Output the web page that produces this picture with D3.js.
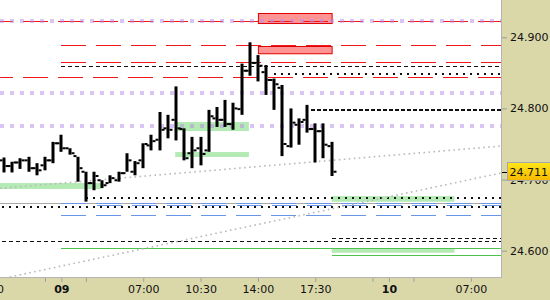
<!DOCTYPE html>
<html>
<head>
<meta charset="utf-8">
<script src="https://cdn.jsdelivr.net/npm/d3@7"></script>
<style>
body { margin: 0; background: #fff; }
text { font-family: "DejaVu Sans", sans-serif; font-size: 11px; fill: #111; }
</style>
</head>
<body>
<div id="chart"></div>
<script>
// 30 min OHLC bars, slot 0..40
var opens  = [24.727, 24.719, 24.724, 24.727, 24.716, 24.720, 24.727, 24.751, 24.744, 24.733,
              24.711, 24.695, 24.699, 24.695, 24.699, 24.709, 24.711, 24.727, 24.748, 24.756,
              24.772, 24.784, 24.771, 24.737, 24.744, 24.741, 24.786, 24.784, 24.778, 24.799,
              24.853, 24.864, 24.851, 24.840, 24.829, 24.747, 24.777, 24.784, 24.771, 24.768, 24.747];
var highs  = [24.731, 24.725, 24.730, 24.732, 24.723, 24.732, 24.753, 24.763, 24.744, 24.732,
              24.711, 24.711, 24.699, 24.706, 24.711, 24.737, 24.726, 24.751, 24.763, 24.795,
              24.791, 24.831, 24.772, 24.760, 24.760, 24.798, 24.802, 24.812, 24.808, 24.863,
              24.893, 24.875, 24.861, 24.842, 24.833, 24.800, 24.786, 24.805, 24.779, 24.779, 24.753];
var lows   = [24.710, 24.710, 24.715, 24.711, 24.706, 24.713, 24.723, 24.739, 24.735, 24.697,
              24.669, 24.685, 24.688, 24.695, 24.697, 24.711, 24.706, 24.716, 24.741, 24.741,
              24.758, 24.755, 24.727, 24.716, 24.720, 24.739, 24.774, 24.774, 24.770, 24.791,
              24.846, 24.838, 24.819, 24.798, 24.733, 24.745, 24.749, 24.766, 24.724, 24.730, 24.705];
var closes = [24.719, 24.724, 24.727, 24.716, 24.713, 24.727, 24.751, 24.744, 24.737, 24.716,
              24.695, 24.705, 24.692, 24.702, 24.709, 24.727, 24.723, 24.750, 24.754, 24.770,
              24.770, 24.772, 24.730, 24.741, 24.736, 24.789, 24.784, 24.778, 24.800, 24.853,
              24.864, 24.860, 24.840, 24.834, 24.750, 24.780, 24.781, 24.771, 24.768, 24.749, 24.711];

var timeTicks  = [-2, 7, 17, 24, 31, 38, 47, 57];
var timeLabels = ["17:30", "09", "07:00", "10:30", "14:00", "17:30", "10", "07:00"];
var dayTicks   = [7, 47];
var minorTicks = [5, 10, 45, 50];
var priceTicks = [24.6, 24.7, 24.8, 24.9];
var lastPrice  = 24.711;

// levels: [price, first slot]
var redDash       = [[24.9229, -1], [24.8891, 7], [24.8652, 7], [24.8441, -1]];
var purpleDots    = [24.9229, 24.8221, 24.7753];
var blackDash     = [[24.8592, 7], [24.6174, 40], [24.6140, -1]];
var blackDashBold = [[24.7987, 37.5]];
var blackDots     = [[24.8502, 33], [24.6758, 10], [24.6628, -1]];
var blueDash      = [[24.6666, 7], [24.6638, 11.4], [24.6497, 7]];
var grayLine      = [[24.6666, -1]];
var greenLine     = [[24.6033, 7], [24.5935, 40]];
// zones: [top, bottom, from slot, to slot]
var redZones   = [[24.9337, 24.9196, 31, 40], [24.8877, 24.8775, 31, 40]];
var greenZones = [[24.7809, 24.7682, 20.9, 29.9], [24.7387, 24.7317, 20.9, 29.9],
                  [24.6951, 24.6867, -1, 11.85], [24.6768, 24.6688, 40, 55],
                  [24.6023, 24.5971, 40, 55]];
// dotted trend lines: [slot, price]
var trendLines = [[[-0.49, 24.6877], [60.68, 24.7471]],
                  [[-0.49, 24.5601], [60.68, 24.7092]]];

var svgWidth = 550;
var svgHeight = 300;
var plotW = 501;
var plotH = 277;

var svg = d3.select("#chart")
  .append("svg")
  .attr("width", svgWidth)
  .attr("height", svgHeight);

var x = d3.scaleLinear().domain([-0.488, 60.68]).range([0, plotW]);
var y = d3.scaleLinear().domain([24.56301, 24.95244]).range([plotH, 0]);

// panels
svg.append("rect").attr("x", 0).attr("y", 0).attr("width", svgWidth).attr("height", svgHeight)
  .attr("fill", "#dad8a9");
svg.append("rect").attr("x", 0).attr("y", 0).attr("width", plotW).attr("height", plotH)
  .attr("fill", "#fff");

svg.append("clipPath").attr("id", "plotclip")
  .append("rect").attr("width", plotW).attr("height", plotH);

var plot = svg.append("g").attr("clip-path", "url(#plotclip)");

function clampX(s) { return Math.max(x(s), 0); }

// zones
plot.selectAll(".gzone").data(greenZones).enter().append("rect")
  .attr("x", d => clampX(d[2]))
  .attr("y", d => y(d[0]))
  .attr("width", d => x(d[3]) - clampX(d[2]))
  .attr("height", d => y(d[1]) - y(d[0]))
  .attr("fill", "#b4eab4");

plot.selectAll(".rzone").data(redZones).enter().append("rect")
  .attr("x", d => x(d[2]) + 0.5)
  .attr("y", d => Math.round(y(d[0])) + 0.5)
  .attr("width", d => x(d[3]) - x(d[2]))
  .attr("height", d => y(d[1]) - y(d[0]))
  .attr("fill", "#ff9494")
  .attr("stroke", "#e00000")
  .attr("stroke-width", 1);

// horizontal levels
function levels(data, color, width, dash, offset) {
  plot.append("g").selectAll("line").data(data).enter().append("line")
    .attr("x1", d => x(d[1]))
    .attr("x2", plotW)
    .attr("y1", d => Math.round(y(d[0])) + 0.5)
    .attr("y2", d => Math.round(y(d[0])) + 0.5)
    .attr("stroke", color)
    .attr("stroke-width", width)
    .attr("stroke-dasharray", dash)
    .attr("stroke-dashoffset", d => d[1] < 0 ? 8 : (offset || 0))
    .attr("shape-rendering", "crispEdges");
}

levels(grayLine, "#a9a9a9", 1.5, null);
levels(blueDash, "#6a96e8", 1.5, "25,10");
levels(redDash, "#f01818", 1, "25,10");
levels(greenLine, "#4cc44c", 1.2, null);
levels(blackDash, "#111", 1, "4,3");
levels(blackDashBold, "#111", 2, "3.5,2.5");
levels(blackDots, "#111", 2, "2,5");

// trend lines
var trend = d3.line().x(d => x(d[0])).y(d => y(d[1]));
plot.selectAll(".trend").data(trendLines).enter().append("path")
  .attr("d", trend)
  .attr("fill", "none")
  .attr("stroke", "#b9b9b9")
  .attr("stroke-width", 1.6)
  .attr("stroke-dasharray", "1.6,3.4");

// purple dotted levels
plot.append("g").selectAll("line").data(purpleDots).enter().append("line")
  .attr("x1", 0)
  .attr("x2", plotW)
  .attr("y1", d => Math.round(y(d)))
  .attr("y2", d => Math.round(y(d)))
  .attr("stroke", "#b68ae8")
  .attr("stroke-opacity", 0.5)
  .attr("stroke-width", 3.5)
  .attr("stroke-dasharray", "4,6")
  .attr("shape-rendering", "crispEdges");

// OHLC bars
var bars = plot.append("g").selectAll("g").data(d3.range(opens.length)).enter().append("g");

bars.append("rect")
  .attr("x", i => Math.round(x(i)) - 1.5)
  .attr("y", i => y(highs[i]))
  .attr("width", 3)
  .attr("height", i => y(lows[i]) - y(highs[i]))
  .attr("fill", "#000");

bars.append("rect")
  .attr("x", i => Math.round(x(i)) - 4.5)
  .attr("y", i => y(opens[i]) - 1)
  .attr("width", 3)
  .attr("height", 2)
  .attr("fill", "#000");

bars.append("rect")
  .attr("x", i => Math.round(x(i)) + 1.5)
  .attr("y", i => y(closes[i]) - 1)
  .attr("width", 3)
  .attr("height", 2)
  .attr("fill", "#000");

// borders
svg.append("line").attr("x1", plotW + 0.5).attr("x2", plotW + 0.5).attr("y1", 0).attr("y2", plotH + 1)
  .attr("stroke", "#b4b4b4");
svg.append("line").attr("x1", 0).attr("x2", plotW + 1).attr("y1", plotH + 0.5).attr("y2", plotH + 0.5)
  .attr("stroke", "#b4b4b4");

// bottom axis
var bottomAxis = d3.axisBottom(x)
  .tickValues(timeTicks)
  .tickSize(4)
  .tickPadding(3)
  .tickFormat((d, i) => timeLabels[i]);

var xAxisG = svg.append("g")
  .attr("transform", `translate(0, ${plotH + 1})`)
  .call(bottomAxis);
xAxisG.select(".domain").remove();
xAxisG.selectAll("line").attr("stroke", "#a0a0a0");
xAxisG.selectAll("text")
  .attr("fill", "#111")
  .style("font-weight", d => dayTicks.indexOf(d) >= 0 ? "bold" : "normal");

var minorAxisG = svg.append("g")
  .attr("transform", `translate(0, ${plotH + 1})`)
  .call(d3.axisBottom(x).tickValues(minorTicks).tickSize(4).tickFormat(""));
minorAxisG.select(".domain").remove();
minorAxisG.selectAll("line").attr("stroke", "#a0a0a0");

// right axis
var rightAxis = d3.axisRight(y)
  .tickValues(priceTicks)
  .tickSize(5)
  .tickPadding(3)
  .tickFormat(d3.format(".3f"));

var yAxisG = svg.append("g")
  .attr("transform", `translate(${plotW + 1}, 0)`)
  .call(rightAxis);
yAxisG.select(".domain").remove();
yAxisG.selectAll("line").attr("stroke", "#9a9a9a");
yAxisG.selectAll("text").attr("fill", "#111");

// last price label
var grad = svg.append("defs").append("linearGradient")
  .attr("id", "gold").attr("x1", 0).attr("x2", 0).attr("y1", 0).attr("y2", 1);
grad.append("stop").attr("offset", "0%").attr("stop-color", "#ffe81a");
grad.append("stop").attr("offset", "100%").attr("stop-color", "#f5b800");

var ly = Math.round(y(lastPrice));
svg.append("line")
  .attr("x1", plotW + 1).attr("x2", plotW + 7)
  .attr("y1", ly + 0.5).attr("y2", ly + 0.5)
  .attr("stroke", "#000");
svg.append("rect")
  .attr("x", 507.5).attr("y", ly - 9.5)
  .attr("width", 46).attr("height", 18)
  .attr("fill", "url(#gold)")
  .attr("stroke", "#a8a8a8");
svg.append("text")
  .attr("x", 509.5).attr("y", ly)
  .attr("dy", "0.36em")
  .attr("fill", "#111")
  .text(d3.format(".3f")(lastPrice));
</script>
</body>
</html>
